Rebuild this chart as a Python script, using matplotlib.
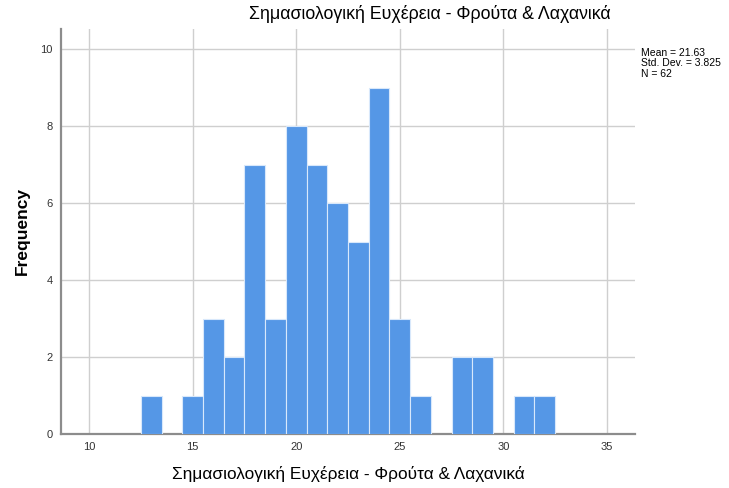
import numpy as np
import matplotlib.pyplot as plt

plt.rcParams['font.family'] = ['Liberation Sans', 'DejaVu Sans']

# bin centres (width 1) and counts
bin_centers = [13, 15, 16, 17, 18, 19, 20, 21, 22, 23, 24, 25, 26, 28, 29, 31, 32]
counts = [1, 1, 3, 2, 7, 3, 8, 7, 6, 5, 9, 3, 1, 2, 2, 1, 1]
x_ticks = [10, 15, 20, 25, 30, 35]
y_ticks = [0, 2, 4, 6, 8, 10]
title = 'Σημασιολογική Ευχέρεια - Φρούτα & Λαχανικά'
stats = 'Mean = 21.63\nStd. Dev. = 3.825\nN = 62'

fig = plt.figure(figsize=(7.29, 4.88), dpi=100)
ax = fig.add_axes([61/729, 54/488, 574/729, 405/488])

ax.bar(bin_centers, counts, width=1.0, color='#5597e6',
       edgecolor='#d8e8fb', linewidth=0.8, zorder=3)

ax.set_xlim(8.65, 36.35)
ax.set_ylim(0, 10.52)
ax.set_xticks(x_ticks)
ax.set_yticks(y_ticks)
ax.grid(True, color='#cfcfcf', linewidth=1.0, zorder=0)
ax.tick_params(length=0, labelsize=8, colors='#333333', pad=6)

for s in ['top', 'right']:
    ax.spines[s].set_visible(False)
for s in ['left', 'bottom']:
    ax.spines[s].set_color('#8c8c8c')
    ax.spines[s].set_linewidth(1.6)

fig.text(430/729, 1 - 14/488, title, ha='center', va='center', fontsize=12.8)
fig.text(348/729, 1 - 474/488, title, ha='center', va='center', fontsize=12.4)
fig.text(22/729, 1 - 231/488, 'Frequency', ha='center', va='center',
         rotation=90, fontsize=12.5, fontweight='bold')
fig.text(641/729, 1 - 48/488, stats, ha='left', va='top', fontsize=7.5, linespacing=1.05)

plt.savefig('out.png', dpi=100)
